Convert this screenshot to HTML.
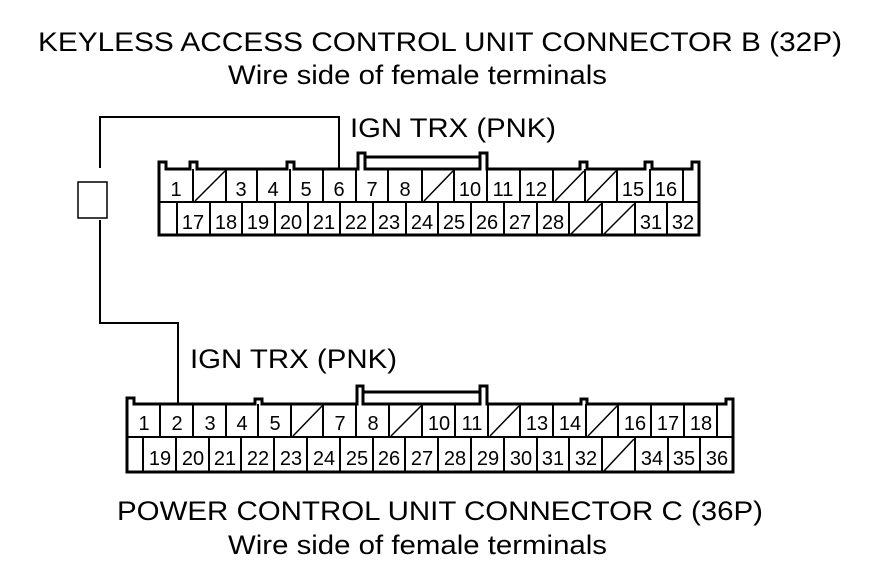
<!DOCTYPE html>
<html><head><meta charset="utf-8"><style>
html,body{margin:0;padding:0;background:#fff;}
svg{display:block;font-family:"Liberation Sans",Arial,sans-serif;}
</style></head><body>
<svg width="880" height="578" viewBox="0 0 880 578" xmlns="http://www.w3.org/2000/svg">
<g fill="#000" font-size="27">
<text x="38" y="51" textLength="804" lengthAdjust="spacingAndGlyphs">KEYLESS ACCESS CONTROL UNIT CONNECTOR B (32P)</text>
<text x="228" y="84" textLength="379" lengthAdjust="spacingAndGlyphs">Wire side of female terminals</text>
<text x="350" y="137" textLength="206" lengthAdjust="spacingAndGlyphs">IGN TRX (PNK)</text>
<text x="190" y="368" textLength="207" lengthAdjust="spacingAndGlyphs">IGN TRX (PNK)</text>
<text x="117" y="520" textLength="646" lengthAdjust="spacingAndGlyphs">POWER CONTROL UNIT CONNECTOR C (36P)</text>
<text x="228" y="554" textLength="379" lengthAdjust="spacingAndGlyphs">Wire side of female terminals</text>
</g>
<g fill="none" stroke="#000" stroke-width="2">
<polyline points="100,168 100,117 339,117 339,170"/>
<rect x="78" y="182" width="29" height="36" stroke-width="1.5"/>
<polyline points="100,220 100,323 178,323 178,404"/>
</g>
<g fill="none" stroke="#000">
<path d="M159,235 L159,162 L166,162 L166,169 L190,169 L190,162 L197,162 L197,169 L287,169 L287,162 L294,162 L294,169 L358,169 L358,153 L365,153 L365,169 L480,169 L480,153 L487,153 L487,169 L580,169 L580,162 L587,162 L587,169 L645,169 L645,162 L652,162 L652,169 L692,169 L692,162 L699,162 L699,235 Z" stroke-width="3" fill="#fff"/>
<line x1="365" y1="157" x2="480" y2="157" stroke-width="3"/>
<line x1="159" y1="202" x2="699" y2="202" stroke-width="2"/>
<g stroke-width="2">
<path d="M193,169V202M226,169V202M257,169V202M290,169V202M323,169V202M356,169V202M388,169V202M422,169V202M454,169V202M487,169V202M520,169V202M553,169V202M585,169V202M617,169V202M650,169V202M683,169V202"/>
<path d="M177,202V235M210,202V235M242,202V235M275,202V235M308,202V235M340,202V235M373,202V235M406,202V235M438,202V235M471,202V235M504,202V235M537,202V235M569,202V235M602,202V235M635,202V235M667,202V235"/>
<path d="M195,201L225,171M424,201L453,171M555,201L584,171M587,201L616,171M571,234L601,204M604,234L634,204" stroke-width="1.5"/>
</g>
</g>
<g font-size="20" text-anchor="middle" fill="#000">
<text x="176" y="196">1</text><text x="241" y="196">3</text><text x="273" y="196">4</text><text x="306" y="196">5</text><text x="339" y="196">6</text><text x="372" y="196">7</text><text x="405" y="196">8</text><text x="470" y="196">10</text><text x="503" y="196">11</text><text x="536" y="196">12</text><text x="633" y="196">15</text><text x="666" y="196">16</text>
<text x="193" y="229">17</text><text x="226" y="229">18</text><text x="258" y="229">19</text><text x="291" y="229">20</text><text x="324" y="229">21</text><text x="356" y="229">22</text><text x="389" y="229">23</text><text x="422" y="229">24</text><text x="454" y="229">25</text><text x="487" y="229">26</text><text x="520" y="229">27</text><text x="553" y="229">28</text><text x="651" y="229">31</text><text x="683" y="229">32</text>
</g>
<g fill="none" stroke="#000">
<path d="M127,472 L127,398 L134,398 L134,404 L255,404 L255,399 L262,399 L262,404 L357,404 L357,386 L363,386 L363,404 L480,404 L480,386 L487,386 L487,404 L581,404 L581,399 L587,399 L587,404 L726,404 L726,399 L733,399 L733,472 Z" stroke-width="3" fill="#fff"/>
<line x1="363" y1="392" x2="480" y2="392" stroke-width="3"/>
<line x1="127" y1="437" x2="733" y2="437" stroke-width="2"/>
<g stroke-width="2">
<path d="M160,404V437M193,404V437M226,404V437M258,404V437M291,404V437M323,404V437M356,404V437M389,404V437M422,404V437M455,404V437M488,404V437M520,404V437M553,404V437M586,404V437M618,404V437M651,404V437M684,404V437M717,404V437"/>
<path d="M143,437V472M176,437V472M209,437V472M241,437V472M274,437V472M307,437V472M340,437V472M373,437V472M405,437V472M438,437V472M471,437V472M504,437V472M537,437V472M569,437V472M602,437V472M635,437V472M668,437V472M700,437V472"/>
<path d="M293,436L322,406M391,436L421,406M490,436L519,406M588,436L617,406M604,471L634,439" stroke-width="1.5"/>
</g>
</g>
<g font-size="20" text-anchor="middle" fill="#000">
<text x="144" y="430">1</text><text x="177" y="430">2</text><text x="210" y="430">3</text><text x="242" y="430">4</text><text x="275" y="430">5</text><text x="340" y="430">7</text><text x="373" y="430">8</text><text x="439" y="430">10</text><text x="472" y="430">11</text><text x="537" y="430">13</text><text x="570" y="430">14</text><text x="635" y="430">16</text><text x="668" y="430">17</text><text x="701" y="430">18</text>
<text x="160" y="465">19</text><text x="193" y="465">20</text><text x="225" y="465">21</text><text x="258" y="465">22</text><text x="291" y="465">23</text><text x="324" y="465">24</text><text x="357" y="465">25</text><text x="389" y="465">26</text><text x="422" y="465">27</text><text x="455" y="465">28</text><text x="488" y="465">29</text><text x="521" y="465">30</text><text x="553" y="465">31</text><text x="586" y="465">32</text><text x="652" y="465">34</text><text x="684" y="465">35</text><text x="717" y="465">36</text>
</g>
</svg>
</body></html>
